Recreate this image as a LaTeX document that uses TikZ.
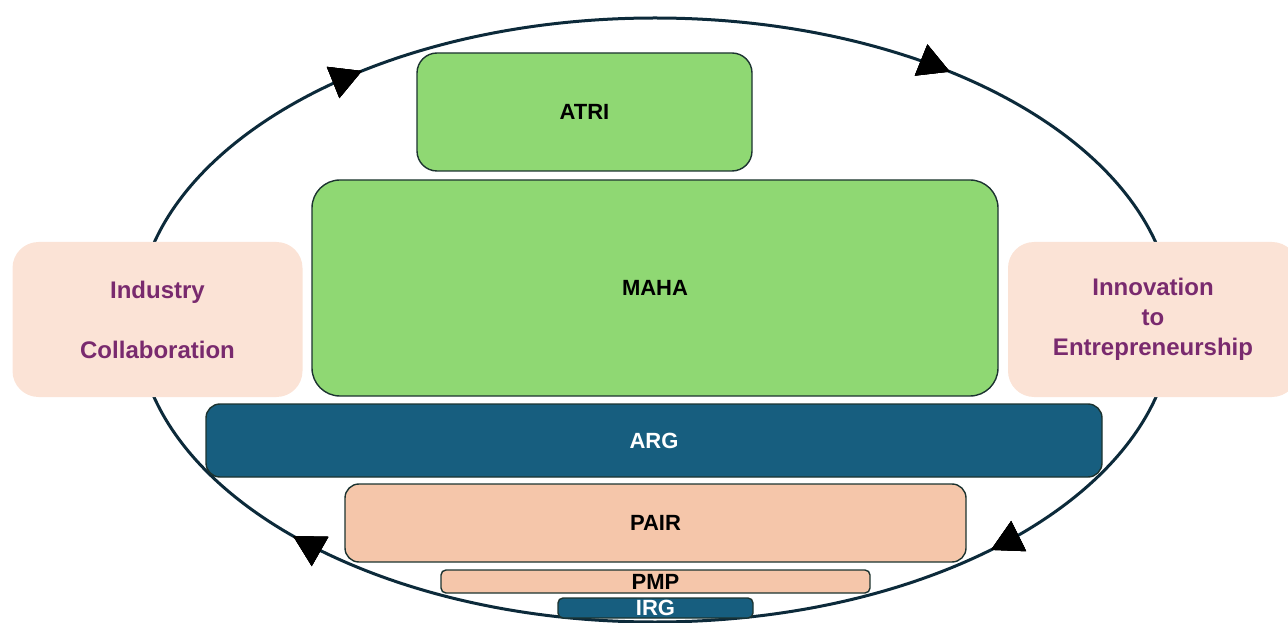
\documentclass[tikz,border=0pt]{standalone}
\usepackage{fontspec}
\setmainfont{Liberation Sans}
\usetikzlibrary{arrows.meta,decorations.markings}

\definecolor{leaf}{HTML}{8FD873}
\definecolor{deepsea}{HTML}{175E7F}
\definecolor{peach}{HTML}{F5C6AA}
\definecolor{blush}{HTML}{FBE3D6}
\definecolor{plum}{HTML}{792A6E}
\definecolor{edge}{HTML}{1C3330}
\definecolor{ink}{HTML}{0C2A3A}

\tikzset{
  tier/.style={draw=edge, line width=1.4pt, rounded corners=#1, inner sep=0pt,
    text height=15.8pt, text depth=0pt,
    font=\fontsize{22}{26}\selectfont\bfseries},
  tier/.default=15pt,
  green tier/.style={tier=#1, fill=leaf, text=black},
  green tier/.default=20pt,
  sea tier/.style={tier=#1, fill=deepsea, text=white},
  sea tier/.default=14pt,
  peach tier/.style={tier=#1, fill=peach, text=black},
  peach tier/.default=14pt,
  side card/.style={fill=blush, rounded corners=26pt, inner sep=0pt,
    minimum width=290pt, minimum height=155pt, align=center, text=plum,
    font=\fontsize{24}{30}\selectfont\bfseries},
  cycle line/.style={draw=ink, line width=3pt},
  flow head/.style={decoration={markings,
      mark=at position #1 with {\arrowreversed{Triangle[length=31pt,width=33pt,color=black]}}},
    postaction={decorate}},
}

\begin{document}
\begin{tikzpicture}[x=1pt,y=1pt]
  \useasboundingbox (0,0) rectangle (1288,622);
  \clip (0,0) rectangle (1288,622);

  % the surrounding cycle, running clockwise
  \coordinate (hub) at (655,302);
  \draw[cycle line, flow head=0.1350, flow head=0.3643, flow head=0.6066, flow head=0.8822]
    (hub) ellipse [x radius=518, y radius=302];

  % side themes
  \node[side card] (industry) at (157.5,302.5) {Industry\\[30pt]Collaboration};
  \node[side card] (innovation) at (1153,302.5) {Innovation\\to\\Entrepreneurship};

  % stacked tiers
  \node[green tier=20pt, minimum width=335pt, minimum height=118pt] (atri) at (584.5,510) {ATRI};
  \node[green tier=28pt, minimum width=686pt, minimum height=216pt] (maha) at (655,334) {MAHA};
  \node[sea tier=14pt, minimum width=896pt, minimum height=73pt] (arg) at (654,181.5) {ARG};
  \node[peach tier=14pt, minimum width=621pt, minimum height=78pt] (pair) at (655.5,99) {PAIR};
  \node[peach tier=5pt, minimum width=429pt, minimum height=23pt] (pmp) at (655.5,40.5) {PMP};
  \node[sea tier=5pt, minimum width=195pt, minimum height=20pt] (irg) at (655.5,14) {IRG};
\end{tikzpicture}
\end{document}
